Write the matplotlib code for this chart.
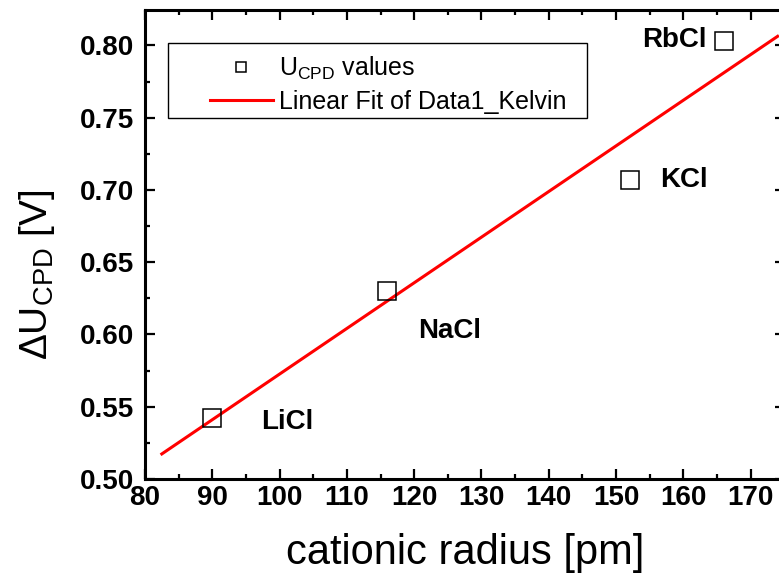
import numpy as np
import matplotlib.pyplot as plt
from matplotlib.patches import Rectangle
from matplotlib.ticker import MultipleLocator

plt.rcParams['font.family'] = ['Liberation Sans', 'DejaVu Sans']
plt.rcParams['mathtext.fontset'] = 'custom'
plt.rcParams['mathtext.rm'] = 'Liberation Sans'

# data
salts = ['LiCl', 'NaCl', 'KCl', 'RbCl']
radius = [90, 116, 152, 166]          # pm
u_cpd = [0.542, 0.630, 0.707, 0.803]  # V
fit_range = [82.5, 174]

fig = plt.figure(figsize=(7.79, 5.76), dpi=100)
# right spine sits just outside the picture, like the original export
ax = fig.add_axes([145 / 779, 97 / 576, 640 / 779, 469 / 576])

# linear fit of the data
slope, icpt = np.polyfit(radius, u_cpd, 1)
xf = np.array(fit_range)
ax.plot(xf, slope * xf + icpt, color='red', lw=2.2, label='Linear Fit of Data1_Kelvin', zorder=2)

ax.plot(radius, u_cpd, ls='none', marker='s', ms=13, mfc='none', mec='black', mew=1.1,
        label=r'U$_\mathregular{CPD}$ values', zorder=3)

# salt labels, offsets in points
offsets = [(35, -3), (22, -29), (22, 0), (-12, 1)]
aligns = ['left', 'left', 'left', 'right']
for name, x, y, off, ha in zip(salts, radius, u_cpd, offsets, aligns):
    ax.annotate(name, (x, y), xytext=off, textcoords='offset points',
                ha=ha, va='center', fontsize=20, fontweight='bold')

ax.set_xlim(80, 175.1)
ax.set_ylim(0.50, 0.8245)
ax.xaxis.set_major_locator(MultipleLocator(10))
ax.xaxis.set_minor_locator(MultipleLocator(5))
ax.yaxis.set_major_locator(MultipleLocator(0.05))
ax.yaxis.set_minor_locator(MultipleLocator(0.025))
ax.tick_params(which='both', direction='in', top=True, right=True, width=1.6)
ax.tick_params(which='major', length=7, labelsize=20)
ax.tick_params(which='minor', length=3.5)
for lab in ax.get_xticklabels() + ax.get_yticklabels():
    lab.set_fontweight('bold')
ax.tick_params(axis='x', pad=4)
ax.tick_params(axis='y', pad=8)
ax.yaxis.set_major_formatter(plt.FormatStrFormatter('%.2f'))
for sp in ax.spines.values():
    sp.set_linewidth(2.2)

ax.set_xlabel('cationic radius [pm]', fontsize=30, labelpad=16)
ax.set_ylabel(r'$\Delta$U$_\mathregular{CPD}$ [V]', fontsize=28)
ax.yaxis.set_label_coords(-0.137, 0.435)

# legend box (Origin style)
ax.add_patch(Rectangle((23 / 640, 361 / 469), 419 / 640, 75 / 469, transform=ax.transAxes,
                       fill=False, ec='black', lw=1.0, zorder=4))
h, l = ax.get_legend_handles_labels()
ax.legend(h[::-1], l[::-1], loc='upper left', bbox_to_anchor=(65 / 640, 424 / 469),
          frameon=False, fontsize=18, borderpad=0, borderaxespad=0,
          handlelength=2.5, handletextpad=0.25, labelspacing=0.3, markerscale=0.5)

fig.savefig('out.png', dpi=100)
